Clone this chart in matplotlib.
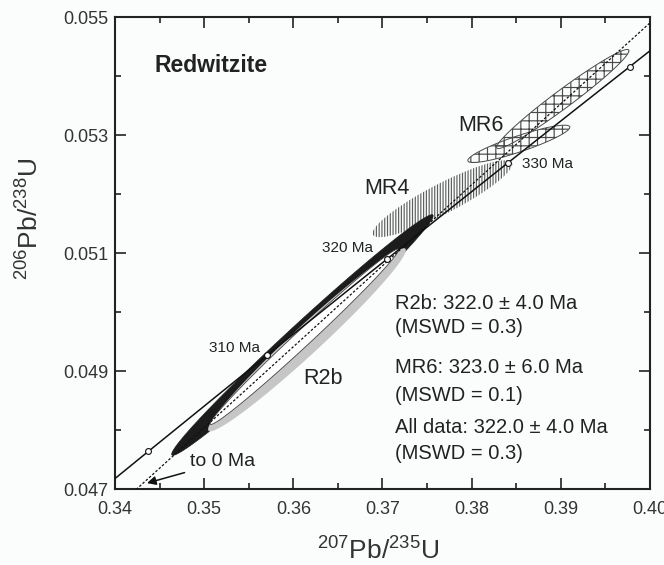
import numpy as np
import matplotlib
matplotlib.use("Agg")
import matplotlib.pyplot as plt
from matplotlib.ticker import FixedLocator, FormatStrFormatter

plt.rcParams['font.family'] = ['Liberation Sans', 'DejaVu Sans']
plt.rcParams['mathtext.fontset'] = 'custom'
plt.rcParams['mathtext.rm'] = 'Liberation Sans'
plt.rcParams['hatch.linewidth'] = 0.85

# ---------------- data ----------------
LAMBDA238 = 1.55125e-10
LAMBDA235 = 9.8485e-10
concordia_age_range = [280.0, 350.0]          # Ma
marker_ages = [300, 310, 320, 330, 340]       # Ma
labeled_ages = ["310 Ma", "320 Ma", "330 Ma"]
lower_intercept_age = 0.0
upper_intercept_age = 322.0

# ellipses: centre (207/235, 206/238), 2-sigma half extents, error correlation
ell_names = ["MR4", "MR6a", "MR6b", "R2b-1", "R2b-2", "R2b-3"]
ell_x   = [0.37672, 0.38529, 0.39022, 0.36102, 0.36153, 0.36124]
ell_y   = [0.05192, 0.05285, 0.05361, 0.04961, 0.04953, 0.04958]
ell_ex  = [0.00783, 0.00572, 0.00742, 0.01466, 0.01109, 0.01056]
ell_ey  = [0.000651, 0.000316, 0.000840, 0.002039, 0.001552, 0.001486]
ell_rho = [0.899, 0.8918, 0.9741, 0.99085, 0.9783, 0.9921]

stats_lines = ["R2b: 322.0 \u00b1 4.0 Ma", "(MSWD = 0.3)",
               "MR6: 323.0 \u00b1 6.0 Ma", "(MSWD = 0.1)",
               "All data: 322.0 \u00b1 4.0 Ma", "(MSWD = 0.3)"]

x_major = [0.34, 0.35, 0.36, 0.37, 0.38, 0.39, 0.40]
x_minor = [0.345, 0.355, 0.365, 0.375, 0.385, 0.395]
y_major = [0.047, 0.049, 0.051, 0.053, 0.055]
y_minor = [0.048, 0.050, 0.052, 0.054]


def ratios(age_ma):
    t = np.asarray(age_ma, dtype=float) * 1e6
    return np.exp(LAMBDA235 * t) - 1.0, np.exp(LAMBDA238 * t) - 1.0


def ellipse(cx, cy, ex, ey, rho, n=400):
    t = np.linspace(0, 2 * np.pi, n)
    x = cx + ex * np.cos(t)
    y = cy + ey * (rho * np.cos(t) + np.sqrt(1 - rho ** 2) * np.sin(t))
    return x, y


fig = plt.figure(figsize=(6.64, 5.65), dpi=100)
fig.patch.set_facecolor('#fbfcfc')
ax = fig.add_axes([115 / 664, 1 - 489 / 565, 535 / 664, 472 / 565])
ax.set_facecolor('#fbfcfc')
ax.set_xlim(0.34, 0.40)
ax.set_ylim(0.047, 0.055)

styles = {
    "MR4":   dict(facecolor='none', edgecolor='#5e5e5e', hatch='||||||', linewidth=0.0, zorder=2),
    "MR6a":  dict(facecolor='none', edgecolor='#4a4a4a', hatch='++', linewidth=0.7, zorder=3),
    "MR6b":  dict(facecolor='none', edgecolor='#4a4a4a', hatch='++', linewidth=0.7, zorder=3),
    "R2b-1": dict(facecolor='#1c1c1c', edgecolor='#1c1c1c', linewidth=0.5, zorder=4),
    "R2b-2": dict(facecolor='#c6c6c6', edgecolor='none', linewidth=0.0, zorder=5),
    "R2b-3": dict(facecolor='white', edgecolor='#444444', linewidth=0.6, zorder=6),
}
for name, cx, cy, ex, ey, r in zip(ell_names, ell_x, ell_y, ell_ex, ell_ey, ell_rho):
    xs, ys = ellipse(cx, cy, ex, ey, r)
    ax.fill(xs, ys, **styles[name])

# concordia
ages = np.linspace(concordia_age_range[0], concordia_age_range[1], 400)
cx_, cy_ = ratios(ages)
ax.plot(cx_, cy_, color='#111111', lw=1.1, zorder=8)
mx, my = ratios(marker_ages)
ax.plot(mx, my, 'o', ms=4.2, mfc='white', mec='#111111', mew=0.8, zorder=9)

# discordia through lower and upper intercepts
lx, ly = ratios(lower_intercept_age)
ux, uy = ratios(upper_intercept_age)
slope = (uy - ly) / (ux - lx)
dx = np.array([0.33, 0.41])
ax.plot(dx, ly + slope * (dx - lx), color='#111111', lw=0.9,
        linestyle=(0, (2.0, 1.5)), zorder=7)

# labels
ax.text(0.35626, 0.04939, labeled_ages[0], fontsize=11, ha='right', va='center', color='#222222', zorder=10)
ax.text(0.36892, 0.051085, labeled_ages[1], fontsize=11, ha='right', va='center', color='#222222', zorder=10)
ax.text(0.38563, 0.052508, labeled_ages[2], fontsize=11, ha='left', va='center', color='#222222', zorder=10)

ax.text(0.34448, 0.05417, "Redwitzite", fontsize=16.5, fontweight='bold', ha='left', va='center', color='#222222')
ax.text(0.38103, 0.053153, "MR6", fontsize=15.5, ha='center', va='center', color='#222222')
ax.text(0.37049, 0.052085, "MR4", fontsize=15.5, ha='center', va='center', color='#222222')
ax.text(0.36332, 0.048881, "R2b", fontsize=15.5, ha='center', va='center', color='#222222')

ax.annotate("to 0 Ma", xy=(0.34359, 0.0471), xytext=(0.34841, 0.047458),
            fontsize=14, ha='left', va='center', color='#222222',
            arrowprops=dict(arrowstyle='-|>', color='#111111', lw=1.1,
                            mutation_scale=13, shrinkA=2, shrinkB=0))

stat_y = [0.050136, 0.049729, 0.049051, 0.048593, 0.048034, 0.047610]
for s, yy in zip(stats_lines, stat_y):
    ax.text(0.37139, yy, s, fontsize=14.5, ha='left', va='center', color='#222222')

# axes styling
ax.xaxis.set_major_locator(FixedLocator(x_major))
ax.xaxis.set_minor_locator(FixedLocator(x_minor))
ax.yaxis.set_major_locator(FixedLocator(y_major))
ax.yaxis.set_minor_locator(FixedLocator(y_minor))
ax.xaxis.set_major_formatter(FormatStrFormatter('%.2f'))
ax.yaxis.set_major_formatter(FormatStrFormatter('%.3f'))
ax.tick_params(which='both', direction='in', top=True, right=True, width=1.2, color='#222222')
ax.tick_params(which='major', length=8)
ax.tick_params(which='minor', length=4.5)
ax.tick_params(axis='x', which='major', labelsize=13, pad=9, labelcolor='#333333')
ax.tick_params(axis='y', which='major', labelsize=13, pad=5, labelcolor='#333333')
for sp in ax.spines.values():
    sp.set_linewidth(1.5)
    sp.set_color('#222222')

ax.text(-0.1607, 0.572, r"$^{206}$Pb/$^{238}$U", transform=ax.transAxes, rotation=90,
        fontsize=19, ha='center', va='center', color='#333333')
ax.text(0.4916, -0.129, r"$^{207}$Pb/$^{235}$U", transform=ax.transAxes,
        fontsize=19, ha='center', va='center', color='#333333')

fig.savefig("out.png", dpi=100, facecolor=fig.get_facecolor())
